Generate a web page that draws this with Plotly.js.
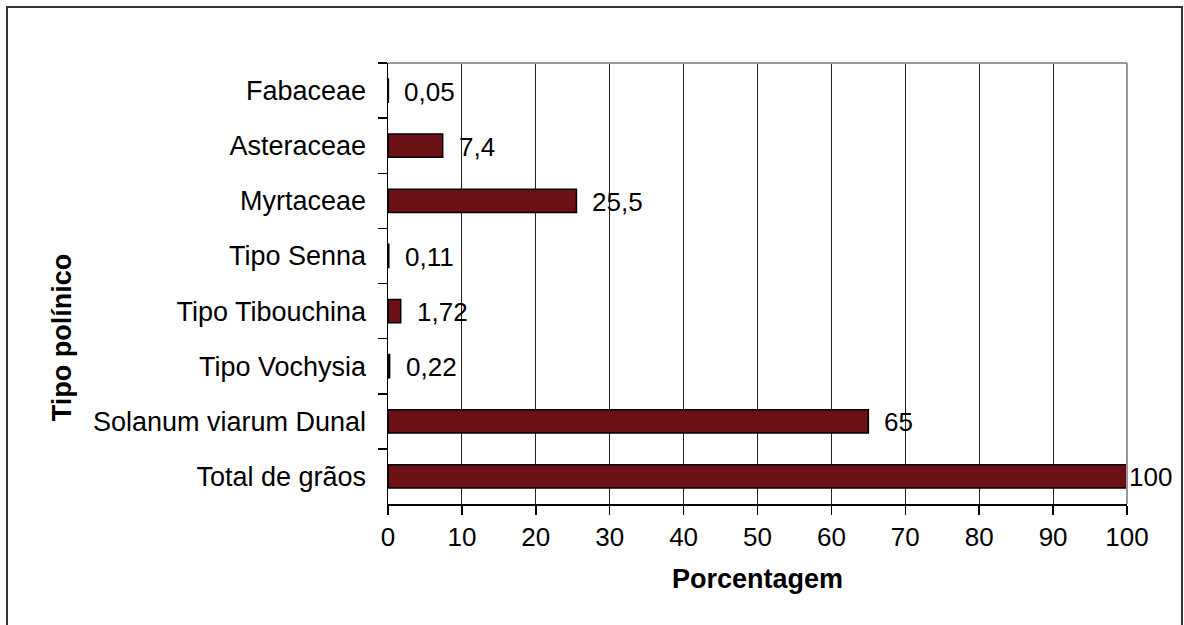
<!DOCTYPE html>
<html>
<head>
<meta charset="utf-8">
<script src="https://cdn.plot.ly/plotly-3.0.1.min.js"></script>
<style>html,body{margin:0;padding:0;background:#fff;}#chart{width:1184px;height:625px;}</style>
</head>
<body>
<div id="chart"></div>
<script>
// Data (top to bottom)
const categories = ["Fabaceae", "Asteraceae", "Myrtaceae", "Tipo Senna", "Tipo Tibouchina", "Tipo Vochysia", "Solanum viarum Dunal", "Total de grãos"];
const values = [0.05, 7.4, 25.5, 0.11, 1.72, 0.22, 65, 100];
const valueLabels = ["0,05", "7,4", "25,5", "0,11", "1,72", "0,22", "65", "100"];
const xTickValues = [0, 10, 20, 30, 40, 50, 60, 70, 80, 90, 100];

const FONT = "Liberation Sans, Arial, sans-serif";

const trace = {
  type: "bar",
  orientation: "h",
  y: categories,
  x: values,
  width: 0.42,
  marker: { color: "#6B1014", line: { color: "#000000", width: 1.5 } },
  hoverinfo: "none",
  cliponaxis: false
};

const annotations = values.map((v, i) => ({
  x: v, y: categories[i], xref: "x", yref: "y",
  text: valueLabels[i], showarrow: false,
  xanchor: "left", yanchor: "middle",
  xshift: v >= 100 ? 0 : 14, yshift: -1,
  font: { family: FONT, size: 26, color: "#000" }
}));
annotations.push({
  xref: "paper", yref: "paper", x: -0.441, y: 0.376,
  xanchor: "center", yanchor: "middle",
  text: "<b>Tipo polínico</b>", textangle: -90, showarrow: false,
  font: { family: FONT, size: 27, color: "#000" }
});

const layout = {
  width: 1184, height: 625,
  margin: { l: 388, r: 57, t: 63, b: 121, pad: 0 },
  paper_bgcolor: "#ffffff", plot_bgcolor: "#ffffff",
  showlegend: false,
  bargap: 0.58,
  font: { family: FONT, size: 27, color: "#000" },
  xaxis: {
    range: [0, 100], tickvals: xTickValues, ticktext: xTickValues.map(String),
    showgrid: true, gridcolor: "#222222", gridwidth: 1,
    zeroline: false, showline: true, linecolor: "#000", linewidth: 1.5,
    ticks: "outside", ticklen: 9, tickcolor: "#000", tickwidth: 1.5,
    tickfont: { family: FONT, size: 26, color: "#000" },
    title: { text: "<b>Porcentagem</b>", font: { family: FONT, size: 27, color: "#000" }, standoff: 18 },
    fixedrange: true
  },
  yaxis: {
    type: "category", autorange: "reversed",
    tickson: "boundaries",
    showgrid: false, zeroline: false, showline: true, linecolor: "#000", linewidth: 1.5,
    ticks: "outside", ticklen: 9, tickcolor: "#000", tickwidth: 1.5,
    ticklabelstandoff: 15,
    tickfont: { family: FONT, size: 27, color: "#000" },
    fixedrange: true
  },
  annotations: annotations,
  shapes: [
    { type: "line", xref: "paper", yref: "paper", x0: 0, x1: 1, y0: 1, y1: 1, line: { color: "#999999", width: 2 } },
    { type: "line", xref: "paper", yref: "paper", x0: 1, x1: 1, y0: 0, y1: 1, line: { color: "#999999", width: 2 } },
    { type: "rect", xref: "paper", yref: "paper",
      x0: (7 - 388) / 739, x1: (1182 - 388) / 739,
      y0: (504 - 632) / 441, y1: (504 - 7) / 441,
      line: { color: "#333333", width: 2 }, fillcolor: "rgba(0,0,0,0)", layer: "above" }
  ]
};

Plotly.newPlot("chart", [trace], layout, { staticPlot: true, displayModeBar: false });
</script>
</body>
</html>
